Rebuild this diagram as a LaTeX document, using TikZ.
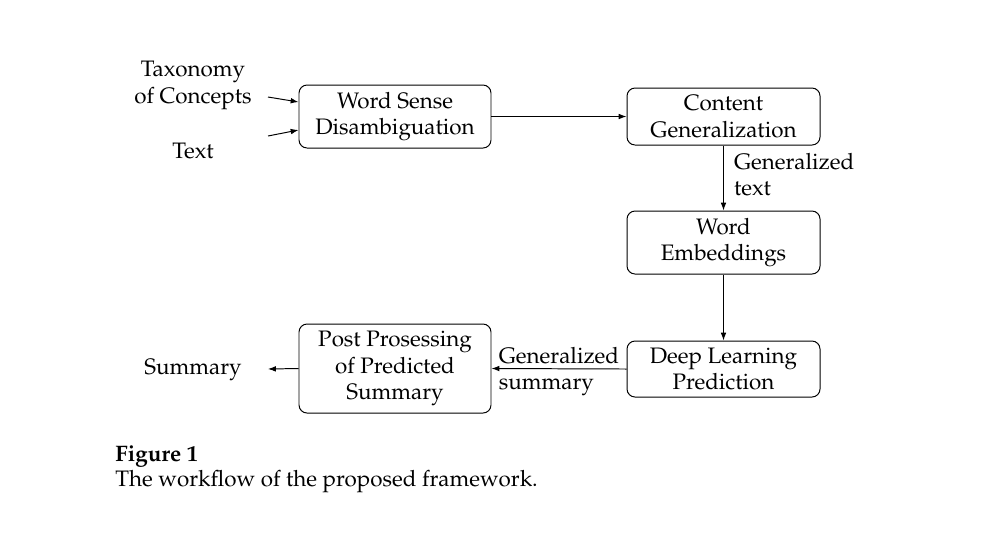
\documentclass[tikz,border=0pt]{standalone}
\usepackage[T1]{fontenc}
\usepackage{mathpazo}
\usetikzlibrary{arrows.meta,calc}
\begin{document}
\begin{tikzpicture}[x=0.46pt,y=-0.46pt,
  font=\fontsize{10.3pt}{12.2pt}\selectfont,
  box/.style={draw,rounded corners=3.7pt,align=center,inner sep=0pt,line width=0.45pt},
  lbl/.style={align=center,inner sep=0pt},
  conn/.style={-{Latex[length=3.6pt,width=2.6pt]},line width=0.45pt}]
\useasboundingbox (0,0) rectangle (997,557);
\node[box,minimum width=88.32pt,minimum height=28.98pt] (wsd) at (395,116.5) {Word Sense\\Disambiguation};
\node[box,minimum width=88.78pt,minimum height=26.22pt] (cg) at (723.5,116.5) {Content\\Generalization};
\node[box,minimum width=88.78pt,minimum height=28.98pt] (we) at (723.5,242.5) {Word\\Embeddings};
\node[box,minimum width=88.78pt,minimum height=25.76pt] (dlp) at (723.5,369) {Deep Learning\\Prediction};
\node[box,minimum width=88.32pt,minimum height=40.94pt] (pp) at (395,368.5) {Post Prosessing\\of Predicted\\Summary};
\node[lbl] (tax) at (193,85.5) {Taxonomy\\of Concepts};
\node[lbl] (txt) at (193,150.5) {Text};
\node[lbl] (sum) at (193,370) {Summary};
\coordinate (t1) at (268,97);
\coordinate (t2) at (268,136);
\coordinate (s1) at (268,369);
\draw[conn] (t1) -- ($(wsd.west)+(0,-14.5)$);
\draw[conn] (t2) -- ($(wsd.west)+(0,13.5)$);
\draw[conn] (wsd.east) -- (cg.west);
\draw[conn] (cg.south) -- (we.north)
  node[midway,anchor=west,align=left,inner sep=0pt,xshift=4.6pt,yshift=1.5pt] (gt) {Generalized\\text};
\draw[conn] (we.south) -- (dlp.north);
\draw[conn] (dlp.west) -- (pp.east)
  node[midway,align=left,inner sep=0pt,yshift=-1.2pt] (gs) {Generalized\\summary};
\draw[conn] (pp.west) -- (s1);
\node[anchor=base west,inner sep=0pt,font=\fontsize{10.3pt}{12.2pt}\selectfont\bfseries] (fig) at (115,461) {Figure 1};
\node[anchor=base west,inner sep=0pt] (cap) at (115,486) {The workflow of the proposed framework.};
\end{tikzpicture}
\end{document}
